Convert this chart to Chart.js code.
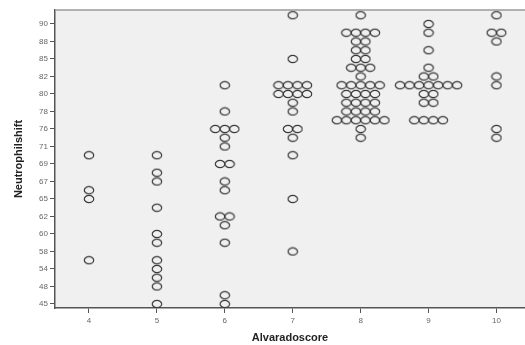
<!DOCTYPE html>
<html>
<head>
<meta charset="utf-8">
<script src="https://cdn.jsdelivr.net/npm/chart.js@4"></script>
<style>
    html, body { margin: 0; padding: 0; background: #fff; }
    #wrap { width: 525px; height: 345px; }
</style>
</head>
<body>
<div id="wrap"><canvas id="scatterChart"></canvas></div>
<script>
    // y axis categories (distinct values, bottom to top), every other one is labelled
    const yCategories = [45, 47, 48, 51, 54, 56, 58, 59, 60, 61, 62, 64, 65, 66, 67, 68, 69,
        70, 71, 74, 76, 77, 78, 79, 80, 81, 82, 84, 85, 86, 88, 89, 90, 92];
    const xScores = [4, 5, 6, 7, 8, 9, 10];

    // Neutrophil shift per Alvarado score
    const score4 = [70, 66, 65, 56];
    const score5 = [70, 68, 67, 64, 60, 59, 56, 54, 51, 48, 45];
    const score6 = [81, 78, 76, 76, 76, 74, 71, 69, 69, 67, 66, 62, 62, 61, 59, 47, 45];
    const score7 = [92, 85, 81, 81, 81, 81, 80, 80, 80, 80, 79, 78, 76, 76, 74, 70, 65, 58];
    const score8 = [92, 89, 89, 89, 89, 88, 88, 86, 86, 85, 85, 84, 84, 84, 82,
        81, 81, 81, 81, 81, 80, 80, 80, 80, 79, 79, 79, 79, 78, 78, 78, 78,
        77, 77, 77, 77, 77, 77, 76, 74];
    const score9 = [90, 89, 86, 84, 82, 82, 81, 81, 81, 81, 81, 81, 81, 80, 80, 79, 79,
        77, 77, 77, 77];
    const score10 = [92, 89, 89, 88, 82, 81, 76, 74];

    const allScores = [score4, score5, score6, score7, score8, score9, score10];

    // stack equal values side by side like the SPSS dot plot
    const dodge = 0.14;
    const points = [];
    allScores.forEach((values, i) => {
        const counts = {};
        values.forEach(v => counts[v] = (counts[v] || 0) + 1);
        Object.keys(counts).forEach(v => {
            const n = counts[v];
            for (let k = 0; k < n; k++) {
                points.push({
                    x: xScores[i] + (k - (n - 1) / 2) * dodge,
                    y: yCategories.indexOf(Number(v))
                });
            }
        });
    });

    // small open ellipse marker
    const marker = document.createElement('canvas');
    marker.width = 12;
    marker.height = 10;
    const mctx = marker.getContext('2d');
    mctx.strokeStyle = '#3a3a3a';
    mctx.lineWidth = 1.2;
    mctx.beginPath();
    mctx.ellipse(6, 5, 4.7, 3.6, 0, 0, Math.PI * 2);
    mctx.stroke();

    const plotFrame = {
        id: 'plotFrame',
        beforeDraw(chart) {
            const { ctx, chartArea: a } = chart;
            ctx.save();
            ctx.fillStyle = '#fff';
            ctx.fillRect(0, 0, chart.width, chart.height);
            ctx.fillStyle = '#f0f0f0';
            ctx.fillRect(a.left, a.top, a.right - a.left, a.bottom - a.top);
            ctx.restore();
        },
        afterDraw(chart) {
            const { ctx, chartArea: a } = chart;
            ctx.save();
            ctx.strokeStyle = '#9a9a9a';
            ctx.lineWidth = 1.5;
            ctx.beginPath();
            ctx.moveTo(a.left, a.top);
            ctx.lineTo(a.right, a.top);
            ctx.stroke();
            ctx.restore();
        }
    };

    Chart.defaults.font.family = "'Liberation Sans', Arial, sans-serif";

    new Chart(document.getElementById('scatterChart'), {
        type: 'scatter',
        data: {
            datasets: [{
                label: 'Neutrophilshift',
                data: points,
                pointStyle: marker,
                pointRadius: 4,
                pointHoverRadius: 4
            }]
        },
        options: {
            responsive: true,
            maintainAspectRatio: false,
            animation: false,
            layout: { autoPadding: false, padding: { top: 10, right: 0, left: 12, bottom: 0 } },
            plugins: {
                legend: { display: false },
                tooltip: { enabled: false }
            },
            scales: {
                x: {
                    type: 'linear',
                    min: 3.5,
                    max: 10.42,
                    afterBuildTicks: axis => { axis.ticks = xScores.map(v => ({ value: v })); },
                    afterFit: axis => { axis.height = 37; },
                    grid: { drawOnChartArea: false, drawTicks: true, tickLength: 5, color: '#555' },
                    border: { display: true, color: '#555', width: 1.5 },
                    ticks: {
                        color: '#666',
                        font: { size: 8 },
                        padding: 3,
                        maxRotation: 0,
                        callback: v => v
                    },
                    title: {
                        display: true,
                        text: 'Alvaradoscore',
                        color: '#222',
                        font: { size: 11, weight: 'bold' },
                        padding: { top: 2, bottom: 0 }
                    }
                },
                y: {
                    type: 'linear',
                    min: -0.46,
                    max: 33.6,
                    afterBuildTicks: axis => {
                        axis.ticks = yCategories.map((v, i) => i).filter(i => i % 2 === 0).map(i => ({ value: i }));
                    },
                    afterFit: axis => { axis.width = 43; },
                    grid: { drawOnChartArea: false, drawTicks: true, tickLength: 5, color: '#555' },
                    border: { display: true, color: '#555', width: 1.5 },
                    ticks: {
                        color: '#666',
                        font: { size: 8 },
                        padding: 2,
                        callback: v => yCategories[v]
                    },
                    title: {
                        display: true,
                        text: 'Neutrophilshift',
                        color: '#222',
                        font: { size: 11, weight: 'bold' },
                        padding: { top: 0, bottom: 4 }
                    }
                }
            }
        },
        plugins: [plotFrame]
    });
</script>
</body>
</html>
